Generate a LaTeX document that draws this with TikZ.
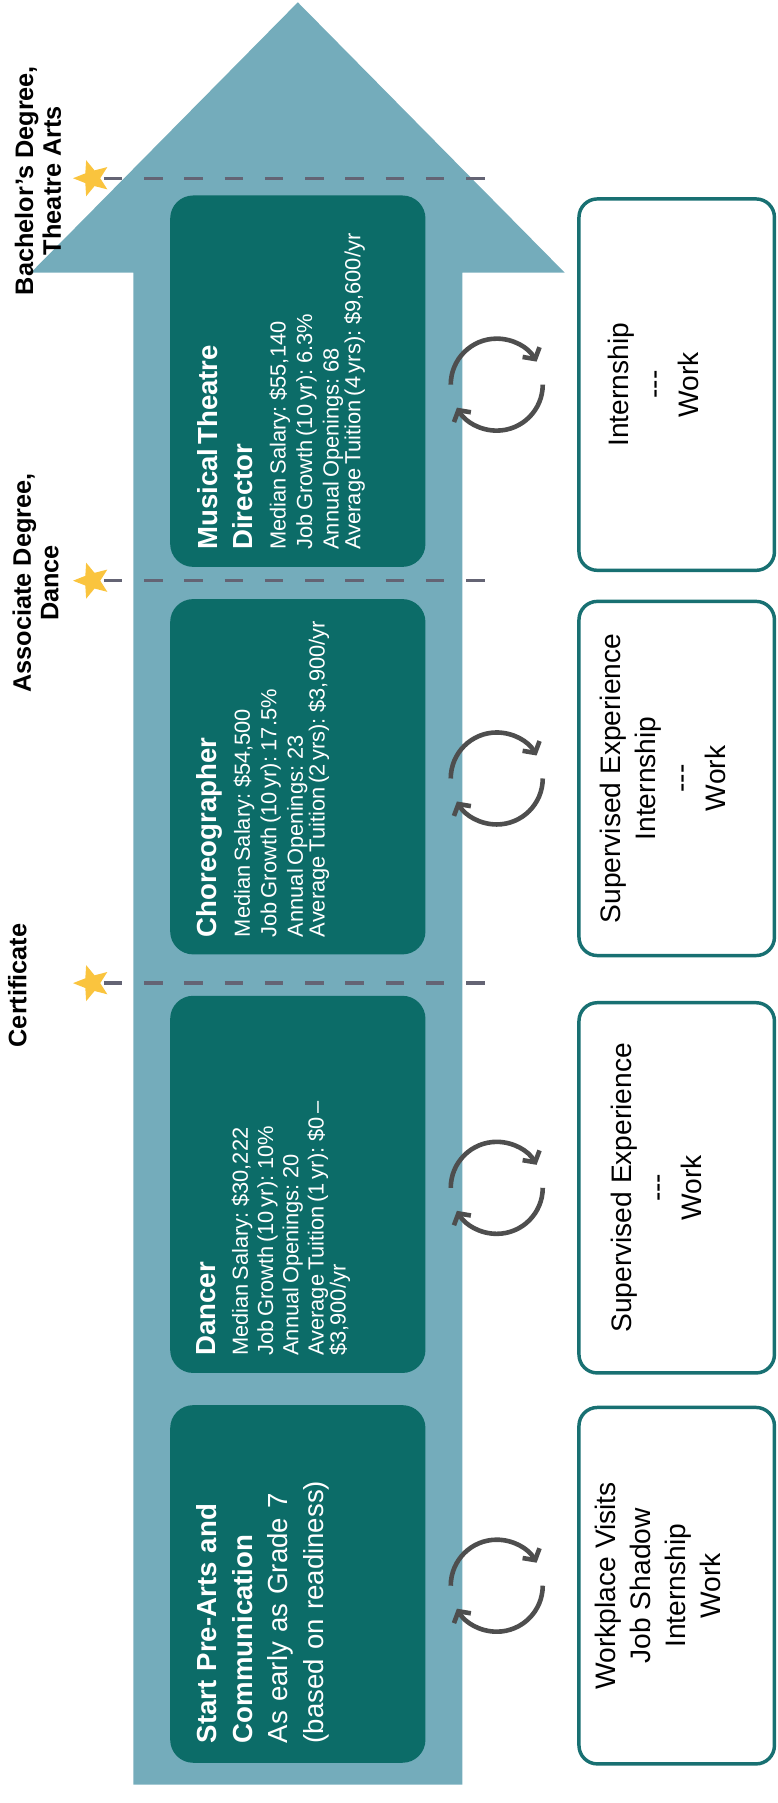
\documentclass[tikz,border=0pt]{standalone}
\usepackage{fontspec}
\setmainfont{Liberation Sans}
\usetikzlibrary{shapes.geometric,arrows.meta}
\setlength{\parindent}{0pt}
\definecolor{shaftblue}{RGB}{116,172,187}
\definecolor{darkteal}{RGB}{12,108,104}
\definecolor{edgeteal}{RGB}{24,112,114}
\definecolor{stargold}{RGB}{250,196,62}
\definecolor{dashgray}{RGB}{100,100,116}
\definecolor{cyclegray}{RGB}{78,78,78}
\newcommand{\dashes}{-\kern0pt-\kern0pt-}
\tikzset{
  jobbox/.style={fill=darkteal,rounded corners=20pt,minimum width=222pt,inner sep=0pt},
  jobtext/.style={rotate=90,anchor=north west,inner sep=0pt,text=white,text width=300pt,align=left},
  workbox/.style={draw=edgeteal,line width=3pt,fill=white,rounded corners=16pt,minimum width=170pt},
  worktext/.style={rotate=90,align=center,font=\fontsize{24.5}{30.5}\selectfont},
  degree/.style={rotate=90,align=center,font=\fontsize{22}{24}\selectfont\bfseries},
  milestone/.style={star,star points=5,star point ratio=2.3,shape border rotate=90,fill=stargold,inner sep=0pt,minimum size=33pt},
  milestonedash/.style={dashgray,line width=3pt,dash pattern=on 16pt off 19pt},
  cyclearrow/.style={line width=4pt,cyclegray,-{Straight Barb[length=7pt,width=17pt]}}
}
\begin{document}
\begin{tikzpicture}[x=1pt,y=-1pt]
\useasboundingbox (0,0) rectangle (676,1568);
\fill[shaftblue] (259,2) -- (491,237) -- (402,237) -- (402,1552) -- (116,1552) -- (116,237) -- (27,237) -- cycle;

\node[jobbox,minimum height=323pt] (mtd) at (259,331.5) {};
\node[jobbox,minimum height=309pt] (cho) at (259,675.5) {};
\node[jobbox,minimum height=328pt] (dan) at (259,1030) {};
\node[jobbox,minimum height=311pt] (pre) at (259,1377.5) {};

\node[jobtext] (mtdtext) at ([xshift=24pt,yshift=15pt]mtd.south west) {\fontsize{24}{30}\selectfont\bfseries Musical Theatre\\Director\par\vspace{6pt}
  \fontsize{19}{23}\selectfont\mdseries Median Salary: \$55,140\\Job Growth (10 yr): 6.3\%\\Annual Openings: 68\\Average Tuition (4 yrs): \$9,600/yr};
\node[jobtext] (chotext) at ([xshift=23pt,yshift=15pt]cho.south west) {\fontsize{24}{30}\selectfont\bfseries Choreographer\par\vspace{6pt}
  \fontsize{19}{23}\selectfont\mdseries Median Salary: \$54,500\\Job Growth (10 yr): 17.5\%\\Annual Openings: 23\\Average Tuition (2 yrs): \$3,900/yr};
\node[jobtext] (dantext) at ([xshift=23pt,yshift=15pt]dan.south west) {\fontsize{24}{30}\selectfont\bfseries Dancer\par\vspace{6pt}
  \fontsize{19}{22}\selectfont\mdseries Median Salary: \$30,222\\Job Growth (10 yr): 10\%\\Annual Openings: 20\\Average Tuition (1 yr): \$0 –\\\$3,900/yr};
\node[jobtext,font=\fontsize{24}{31}\selectfont] (pretext) at ([xshift=23pt,yshift=17pt]pre.south west) {{\bfseries Start Pre-Arts and\\Communication}\\As early as Grade 7\\(based on readiness)};

\node[workbox,minimum height=323pt] (intbox) at (588.5,334.5) {};
\node[workbox,minimum height=308pt] (supintbox) at (588.5,677) {};
\node[workbox,minimum height=322pt] (supbox) at (588.5,1033) {};
\node[workbox,minimum height=310pt] (wpbox) at (588.5,1379) {};
\node[worktext] (inttext) at ([xshift=-20pt]intbox.center) {Internship\\\dashes\\Work};
\node[worktext] (supinttext) at ([xshift=-12pt]supintbox.center) {Supervised Experience\\Internship\\\dashes\\Work};
\node[worktext] (suptext) at ([xshift=-18pt]supbox.center) {Supervised Experience\\\dashes\\Work};
\node[worktext] (wptext) at ([xshift=-16pt]wpbox.center) {Workplace Visits\\Job Shadow\\Internship\\Work};

\foreach \y/\n in {334.5/a,677/b,1033/c,1379/d} {
  \coordinate (cyc\n) at (432,\y);
  \draw[cyclearrow] ([xshift=-40pt]cyc\n) arc[start angle=180,end angle=330,radius=40];
  \draw[cyclearrow] ([xshift=40pt]cyc\n) arc[start angle=0,end angle=150,radius=40];
}

\foreach \y/\n in {155/bach,505/assoc,855/cert} {
  \node[milestone] (\n) at (80,\y) {};
  \draw[milestonedash] ([xshift=3pt]\n.east) -- (430,\y);
}
\node[degree] (bachlabel) at (33,157) {Bachelor’s Degree,\\Theatre Arts};
\node[degree] (assoclabel) at (31,507) {Associate Degree,\\Dance};
\node[degree] (certlabel) at (15,857) {Certificate};
\end{tikzpicture}
\end{document}
